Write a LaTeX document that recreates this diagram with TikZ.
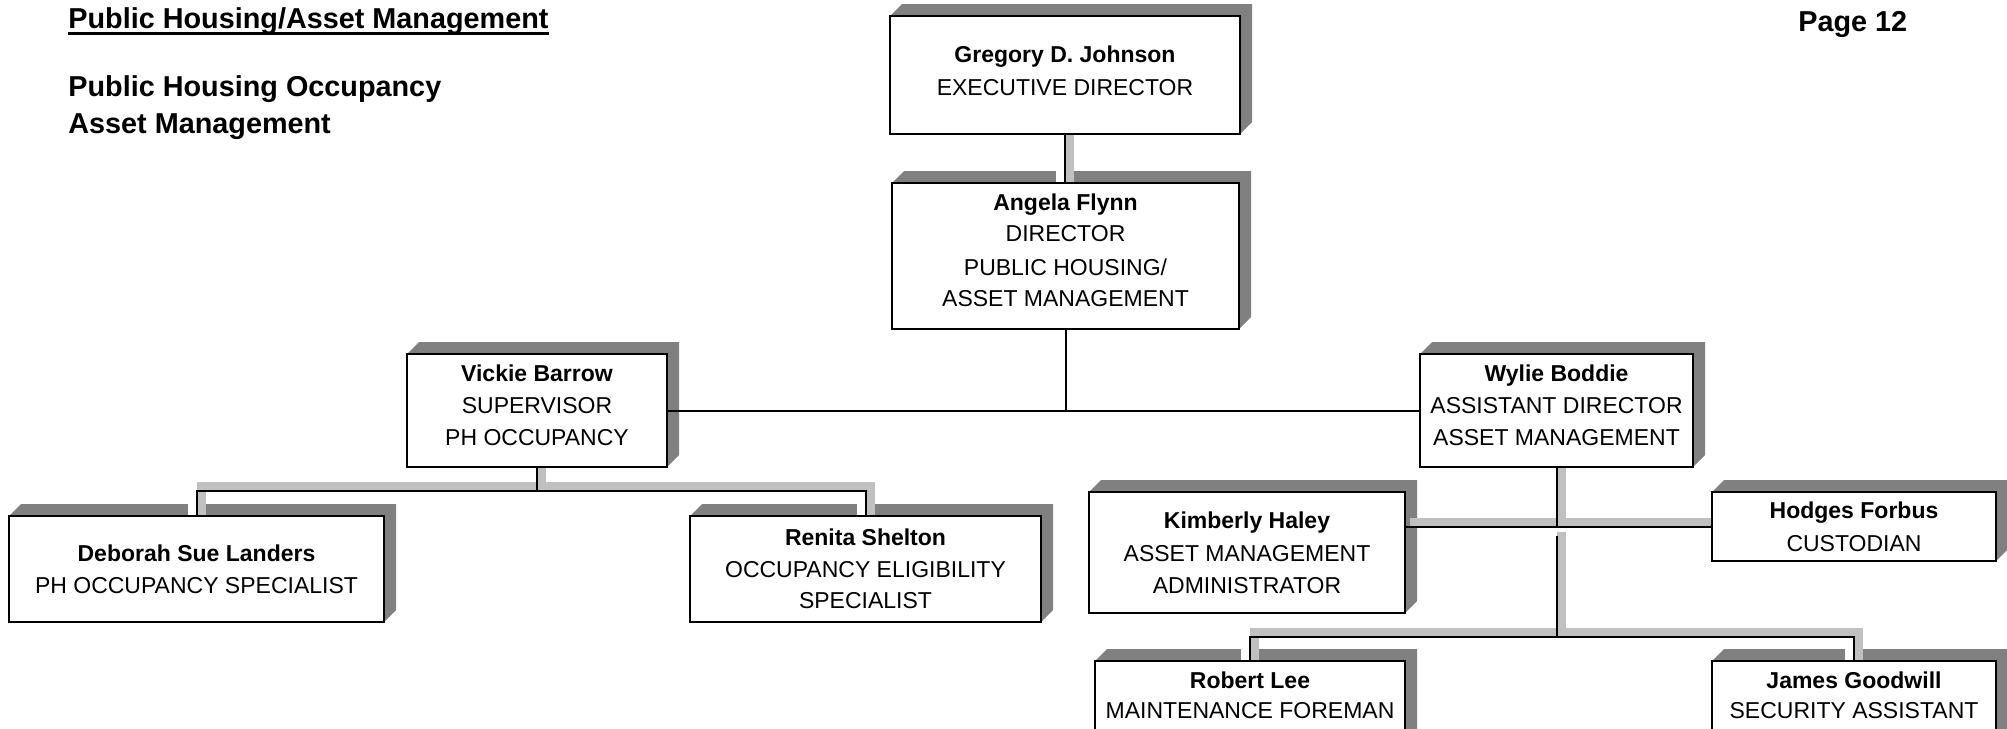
\documentclass[tikz,border=0pt]{standalone}
\usepackage{fontspec}
\setmainfont{Liberation Sans}
\usetikzlibrary{calc}
\pgfdeclarelayer{shA}
\pgfdeclarelayer{shB}
\pgfsetlayers{shA,shB,main}
\definecolor{boxshadow}{RGB}{128,128,128}
\definecolor{lineshadow}{RGB}{192,192,192}
\tikzset{
  orgbox/.style={draw=black, fill=white, line width=1pt, inner sep=0pt, outer sep=0pt},
  lbl/.style={anchor=base, inner sep=0pt, font=\fontsize{11.5pt}{14pt}\selectfont},
  lblb/.style={anchor=base, inner sep=0pt, font=\fontsize{11.5pt}{14pt}\selectfont\bfseries},
  conn/.style={draw=black, line width=1pt},
  connshadow/.style={draw=lineshadow, line width=4.5pt, transform canvas={xshift=2.25pt,yshift=2.25pt}},
  ttl/.style={anchor=base west, inner sep=0pt, font=\fontsize{14.4pt}{17pt}\selectfont\bfseries},
}
\newcommand\boxshade[1]{\begin{pgfonlayer}{shA}\fill[boxshadow] (#1.north west) -- ++(12,-12) -| ([shift={(12,-12)}]#1.south east) -- (#1.south east) -- (#1.north east) -- cycle;\end{pgfonlayer}}
\newcommand\dropnotch[1]{\begin{pgfonlayer}{shB}\fill[white] ([xshift=-4.5pt]#1) rectangle ([yshift=6pt]#1);\fill[lineshadow] (#1) rectangle ([xshift=4.5pt,yshift=6pt]#1);\end{pgfonlayer}}
\begin{document}
\begin{tikzpicture}[x=0.5pt,y=-0.5pt]
\useasboundingbox (0,0) rectangle (2007,728);
\begin{pgfonlayer}{shA}
\fill[white] (0,0) rectangle (2007,728);
\end{pgfonlayer}

% titles
\node[ttl] (title) at (68,28) {Public Housing/Asset Management};
\draw[line width=1.5pt] ([yshift=-2.6pt]title.base west) -- ([yshift=-2.6pt]title.base east);
\node[ttl] (sub1) at (68,96) {Public Housing Occupancy};
\node[ttl] (sub2) at (68,133) {Asset Management};
\node[ttl] (page) at (1798,32) {Page 12};

% boxes
\node[orgbox, minimum width=175pt, minimum height=59pt] (greg) at (1065,75) {};
\node[orgbox, minimum width=173.5pt, minimum height=73pt] (angela) at (1065.5,256) {};
\node[orgbox, minimum width=130pt, minimum height=56.5pt] (vickie) at (537,410.5) {};
\node[orgbox, minimum width=136.5pt, minimum height=56.5pt] (wylie) at (1556.5,410.5) {};
\node[orgbox, minimum width=187.5pt, minimum height=53pt] (deb) at (196.5,569) {};
\node[orgbox, minimum width=175.5pt, minimum height=53pt] (ren) at (865.5,569) {};
\node[orgbox, minimum width=158pt, minimum height=60.5pt] (kim) at (1247,552.5) {};
\node[orgbox, minimum width=142pt, minimum height=34.5pt] (hod) at (1854,526.5) {};
\node[orgbox, minimum width=155pt, minimum height=54.5pt] (rob) at (1250,715.5) {};
\node[orgbox, minimum width=142pt, minimum height=54.5pt] (jam) at (1854,715.5) {};
\boxshade{greg}\boxshade{angela}\boxshade{vickie}\boxshade{wylie}\boxshade{deb}
\boxshade{ren}\boxshade{kim}\boxshade{hod}\boxshade{rob}\boxshade{jam}

% texts
\node[lblb] (greg1) at (1065,62) {Gregory D. Johnson};
\node[lbl] (greg2) at (1065,95) {EXECUTIVE DIRECTOR};
\node[lblb] (ang1) at (1065.5,210.5) {Angela Flynn};
\node[lbl] (ang2) at (1065.5,241.5) {DIRECTOR};
\node[lbl] (ang3) at (1065.5,275) {PUBLIC HOUSING/};
\node[lbl] (ang4) at (1065.5,306) {ASSET MANAGEMENT};
\node[lblb] (vic1) at (537,381.5) {Vickie Barrow};
\node[lbl] (vic2) at (537,413) {SUPERVISOR};
\node[lbl] (vic3) at (537,445) {PH OCCUPANCY};
\node[lblb] (wyl1) at (1556.5,381.5) {Wylie Boddie};
\node[lbl] (wyl2) at (1556.5,413) {ASSISTANT DIRECTOR};
\node[lbl] (wyl3) at (1556.5,445) {ASSET MANAGEMENT};
\node[lblb] (deb1) at (196.5,561) {Deborah Sue Landers};
\node[lbl] (deb2) at (196.5,593.5) {PH OCCUPANCY SPECIALIST};
\node[lblb] (ren1) at (865.5,545) {Renita Shelton};
\node[lbl] (ren2) at (865.5,577) {OCCUPANCY ELIGIBILITY};
\node[lbl] (ren3) at (865.5,608.5) {SPECIALIST};
\node[lblb] (kim1) at (1247,528.5) {Kimberly Haley};
\node[lbl] (kim2) at (1247,561) {ASSET MANAGEMENT};
\node[lbl] (kim3) at (1247,593.5) {ADMINISTRATOR};
\node[lblb] (hod1) at (1854,518.5) {Hodges Forbus};
\node[lbl] (hod2) at (1854,551.5) {CUSTODIAN};
\node[lblb] (rob1) at (1250,688.5) {Robert Lee};
\node[lbl] (rob2) at (1250,718.5) {MAINTENANCE FOREMAN};
\node[lblb] (jam1) at (1854,688.5) {James Goodwill};
\node[lbl] (jam2) at (1854,718.5) {SECURITY ASSISTANT};

% connectors
\coordinate (ga) at (greg.south |- angela.north);
\coordinate (abus) at (angela.south |- vickie.east);
\coordinate (vbus) at (537,491);
\coordinate (wbusA) at (wylie.south |- hod.west);
\coordinate (wgap) at (1556.5,536);
\coordinate (wbusB) at (1556.5,637);

\begin{pgfonlayer}{shB}
\draw[connshadow] (greg.south) -- (ga);
\draw[connshadow] (vickie.south) -- (vbus);
\draw[connshadow] (deb.north) |- (vbus) -| (ren.north);
\draw[connshadow] (wylie.south) -- (wbusA);
\draw[connshadow] (hod.west) -- (hod.west -| kim.east);
\draw[connshadow] (wgap) -- (wbusB);
\draw[connshadow] (rob.north) |- (wbusB) -| (jam.north);
\end{pgfonlayer}
\dropnotch{ga}\dropnotch{deb.north}\dropnotch{ren.north}\dropnotch{rob.north}\dropnotch{jam.north}

\draw[conn] (greg.south) -- (ga);
\draw[conn] (angela.south) -- (abus);
\draw[conn] (vickie.east) -- (wylie.west);
\draw[conn] (vickie.south) -- (vbus);
\draw[conn] (deb.north) |- (vbus) -| (ren.north);
\draw[conn] (wylie.south) -- (wbusA);
\draw[conn] (hod.west) -- (hod.west -| kim.east);
\draw[conn] (wgap) -- (wbusB);
\draw[conn] (rob.north) |- (wbusB) -| (jam.north);
\end{tikzpicture}
\end{document}
